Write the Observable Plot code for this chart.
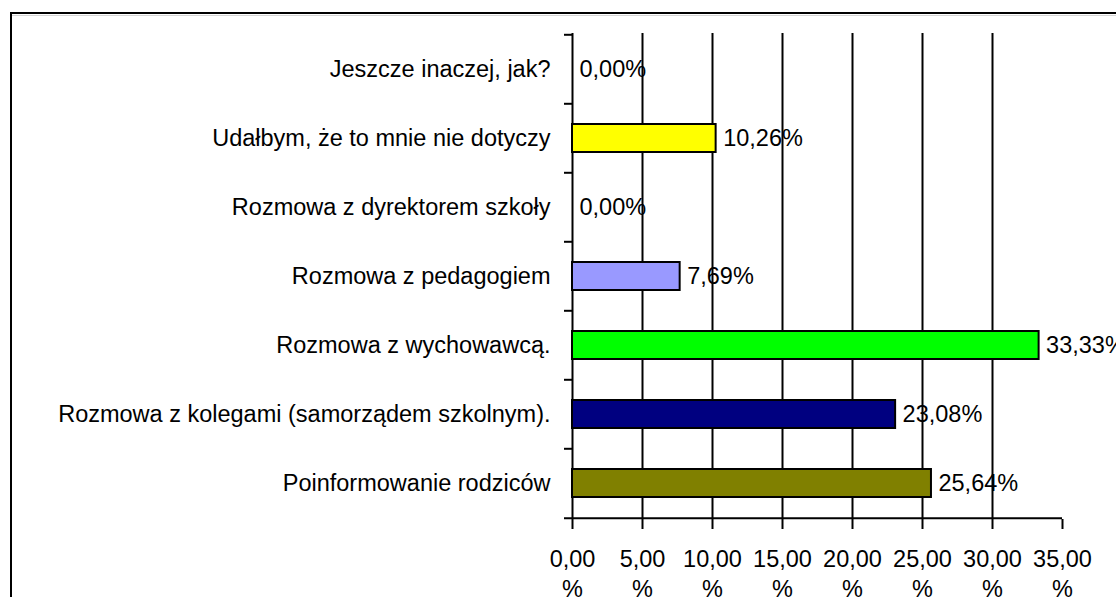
<!DOCTYPE html>
<html>
<head>
<meta charset="utf-8">
<script src="https://cdn.jsdelivr.net/npm/d3@7"></script>
<script src="https://cdn.jsdelivr.net/npm/@observablehq/plot@0.6"></script>
<style>
  html, body { margin: 0; padding: 0; background: #fff; overflow: hidden; }
  #wrap { position: relative; width: 1116px; height: 597px; overflow: hidden; }
  #frame { position: absolute; left: 10px; top: 12px; width: 1300px; height: 800px;
           border-left: 2.5px solid #000; border-top: 2.5px solid #000; }
  #shade { position: absolute; left: 12px; top: 14.5px; width: 1300px; height: 1px; background: #d4d4d4; }
  #chart { position: absolute; left: 0; top: 0; }
</style>
</head>
<body>
<div id="wrap">
  <div id="frame"></div>
  <div id="shade"></div>
  <div id="chart"></div>
</div>
<script>
// ---- data ----
const categories = [
  "Jeszcze inaczej, jak?",
  "Udałbym, że to mnie nie dotyczy",
  "Rozmowa z dyrektorem szkoły",
  "Rozmowa z pedagogiem",
  "Rozmowa z wychowawcą.",
  "Rozmowa z kolegami (samorządem szkolnym).",
  "Poinformowanie rodziców"
];
const values = [0, 10.26, 0, 7.69, 33.33, 23.08, 25.64];
const xTicks = [0, 5, 10, 15, 20, 25, 30, 35];

// ---- styles ----
const barColors = ["#c0c0c0", "#FFFF00", "#c0c0c0", "#9999FF", "#00FF00", "#000080", "#808000"];

const data = categories.map((c, i) => ({cat: c, value: values[i], color: barColors[i]}));
const fmt = v => v.toFixed(2).replace(".", ",");

const W = 1116, H = 597, mT = 33, mB = 78, mL = 572, mR = 54;
const step = (H - mT - mB) / categories.length;
const FS = 23.5;

const plot = Plot.plot({
  width: W,
  height: H,
  marginTop: mT,
  marginBottom: mB,
  marginLeft: mL,
  marginRight: mR,
  style: {fontFamily: "'Liberation Sans', Arial, sans-serif", fontSize: FS + "px", color: "#000", background: "transparent", overflow: "visible"},
  x: {domain: [xTicks[0], xTicks[xTicks.length - 1]], axis: null, label: null},
  y: {domain: categories, paddingInner: 0.597, paddingOuter: 0.2985, axis: null, label: null},
  color: {type: "identity"},
  marks: [
    // vertical gridlines
    Plot.ruleX(xTicks.filter((t, i) => i > 0 && i < xTicks.length - 1), {stroke: "#000", strokeWidth: 2}),
    // y axis line
    Plot.ruleX([xTicks[0]], {stroke: "#000", strokeWidth: 2}),
    // category boundary ticks (left)
    Plot.ruleY(categories, {y: d => d, x1: 0, x2: 0, insetLeft: -8, dy: -step / 2, stroke: "#000", strokeWidth: 2}),
    // bottom axis line with final boundary tick
    Plot.ruleY(categories.slice(-1), {y: d => d, x1: 0, x2: xTicks[xTicks.length - 1], insetLeft: -8, dy: step / 2, stroke: "#000", strokeWidth: 2}),
    // bars
    Plot.barX(data.filter(d => d.value > 0), {x: "value", y: "cat", fill: "color", stroke: "#000", strokeWidth: 2}),
    // value labels
    Plot.text(data, {x: "value", y: "cat", text: d => fmt(d.value) + "%", dx: 7, textAnchor: "start", fontSize: FS, fill: "#000"}),
    // x axis
    Plot.axisX({ticks: xTicks, tickSize: 10, tickPadding: 16, strokeWidth: 2, fontSize: FS, lineHeight: 1.28,
                tickFormat: d => fmt(d) + "\n%", label: null}),
    // y axis labels
    Plot.axisY({tickSize: 0, tickPadding: 22, fontSize: FS, label: null})
  ]
});
document.getElementById("chart").appendChild(plot);
</script>
</body>
</html>
